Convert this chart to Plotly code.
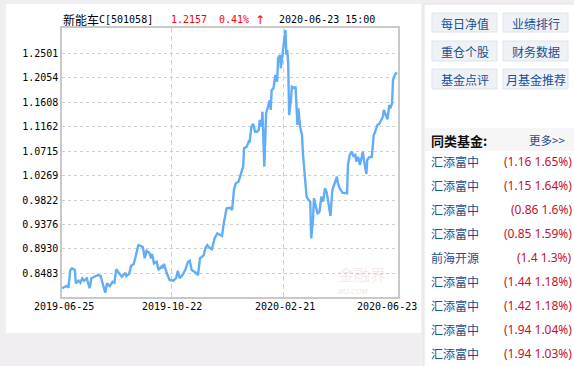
import plotly.graph_objects as go

# ---------------- data ----------------
dates = [
    "2019-06-25","2019-06-30","2019-07-02","2019-07-04","2019-07-06","2019-07-09","2019-07-10",
    "2019-07-13","2019-07-15","2019-07-17","2019-07-19","2019-07-22","2019-07-24","2019-07-25",
    "2019-07-27","2019-07-31","2019-08-03","2019-08-06","2019-08-08","2019-08-11","2019-08-13",
    "2019-08-16","2019-08-19","2019-08-21","2019-08-23","2019-08-26","2019-08-29","2019-08-31",
    "2019-09-02","2019-09-03","2019-09-06","2019-09-08","2019-09-11","2019-09-13","2019-09-16",
    "2019-09-19","2019-09-21","2019-09-23","2019-09-25","2019-09-28","2019-09-30","2019-10-01",
    "2019-10-03","2019-10-06","2019-10-08","2019-10-11","2019-10-12","2019-10-14","2019-10-17",
    "2019-10-20","2019-10-24","2019-10-27","2019-10-29","2019-10-31","2019-11-03","2019-11-06",
    "2019-11-09","2019-11-11","2019-11-13","2019-11-16","2019-11-18","2019-11-20","2019-11-22",
    "2019-11-26","2019-11-28","2019-11-30","2019-12-02","2019-12-05","2019-12-08","2019-12-11",
    "2019-12-14","2019-12-16","2019-12-18","2019-12-21","2019-12-25","2019-12-27","2019-12-29",
    "2019-12-31","2020-01-03","2020-01-05","2020-01-08","2020-01-09","2020-01-12","2020-01-14",
    "2020-01-15","2020-01-17","2020-01-19","2020-01-21","2020-01-23","2020-01-25","2020-01-26",
    "2020-01-28","2020-01-29","2020-01-31","2020-02-02","2020-02-06","2020-02-07","2020-02-08",
    "2020-02-10","2020-02-12","2020-02-14","2020-02-15","2020-02-17","2020-02-18","2020-02-20",
    "2020-02-21","2020-02-23","2020-02-24","2020-02-25","2020-02-26","2020-02-27","2020-02-29",
    "2020-03-01","2020-03-04","2020-03-05","2020-03-07","2020-03-08","2020-03-10","2020-03-12",
    "2020-03-13","2020-03-15","2020-03-17","2020-03-19","2020-03-21","2020-03-22","2020-03-24",
    "2020-03-25","2020-03-27","2020-03-29","2020-03-31","2020-04-02","2020-04-04","2020-04-06",
    "2020-04-08","2020-04-10","2020-04-12","2020-04-14","2020-04-16","2020-04-19","2020-04-20",
    "2020-04-22","2020-04-25","2020-04-28","2020-04-30","2020-05-01","2020-05-03","2020-05-05",
    "2020-05-07","2020-05-09","2020-05-10","2020-05-12","2020-05-14","2020-05-16","2020-05-17",
    "2020-05-19","2020-05-21","2020-05-22","2020-05-24","2020-05-27","2020-05-29","2020-05-30",
    "2020-06-02","2020-06-04","2020-06-06","2020-06-08","2020-06-09","2020-06-11","2020-06-13",
    "2020-06-15","2020-06-16","2020-06-18","2020-06-19","2020-06-21","2020-06-23",
]
nav = [
    0.8209,0.8251,0.8220,0.8543,0.8574,0.8543,0.8300,
    0.8348,0.8311,0.8392,0.8348,0.8392,0.8269,0.8209,
    0.8392,0.8434,0.8452,0.8434,0.8329,0.8128,0.8300,
    0.8251,0.8329,0.8311,0.8556,0.8483,0.8421,0.8452,
    0.8494,0.8434,0.8470,0.8616,0.8653,0.8786,0.9000,
    0.8982,0.8958,0.8757,0.8896,0.8860,0.8757,0.8836,
    0.8666,0.8695,0.8543,0.8604,0.8574,0.8653,0.8483,
    0.8361,0.8348,0.8392,0.8531,0.8392,0.8452,0.8543,
    0.8695,0.8713,0.8543,0.8512,0.8483,0.8452,0.8757,
    0.8808,0.8945,0.9000,0.8955,0.8922,0.9123,0.9214,
    0.9183,0.9165,0.9397,0.9671,0.9682,0.9640,1.0005,
    1.0128,1.0157,1.0280,1.0431,1.0768,1.0797,1.0888,
    1.0870,1.1163,1.1212,1.1071,1.1071,1.1102,1.1285,
    1.1163,1.1437,1.0431,1.1407,1.1650,1.1468,1.1833,
    1.1864,1.2107,1.1985,1.2413,1.2473,1.2230,1.2504,
    1.2551,1.2930,1.2473,1.2564,1.2321,1.1376,1.1650,
    1.1894,1.1864,1.1894,1.1194,1.1499,1.1163,1.1011,
    1.0676,1.0188,0.9883,0.9823,0.9792,0.9123,0.9457,
    0.9854,0.9700,0.9567,0.9609,0.9883,0.9792,1.0037,
    0.9956,0.9762,0.9530,1.0005,1.0097,1.0249,1.0128,
    1.0037,0.9956,0.9945,0.9945,1.0462,1.0645,1.0706,
    1.0627,1.0645,1.0523,1.0614,1.0462,1.0614,1.0706,
    1.0494,1.0298,1.0554,1.0603,1.0614,1.1011,1.1042,
    1.1194,1.1212,1.1285,1.1345,1.1468,1.1376,1.1298,
    1.1559,1.1499,1.1590,1.2016,1.2107,1.2157,
]
y_ticks = [0.8483, 0.8930, 0.9376, 0.9822, 1.0269, 1.0715, 1.1162, 1.1608, 1.2054, 1.2501]
y_tick_labels = ["0.8483", "0.8930", "0.9376", "0.9822", "1.0269",
                 "1.0715", "1.1162", "1.1608", "1.2054", "1.2501"]
x_tick_dates = ["2019-06-25", "2019-10-22", "2020-02-21", "2020-06-23"]
x_tick_labels = ["2019-06-25", "2019-10-22", "2020-02-21", "2020-06-23"]

fund_name = "新能车"
fund_code = "C[501058]"
last_nav = "1.2157"
last_chg = "0.41%"
last_arrow = "↑"
last_time = "2020-06-23 15:00"

buttons = ["每日净值", "业绩排行", "重仓个股", "财务数据", "基金点评", "月基金推荐"]
peer_title = "同类基金:"
peer_more = "更多>>"
peer_names = ["汇添富中", "汇添富中", "汇添富中", "汇添富中", "前海开源",
              "汇添富中", "汇添富中", "汇添富中", "汇添富中"]
peer_vals = ["(1.16 1.65%)", "(1.15 1.64%)", "(0.86 1.6%)", "(0.85 1.59%)", "(1.4 1.3%)",
             "(1.44 1.18%)", "(1.42 1.18%)", "(1.94 1.04%)", "(1.94 1.03%)"]

# ---------------- layout helpers ----------------
W, H = 574, 366
L, R, T, B = 62, 398, 28, 297  # plot area in pixels


def px(x):
    return (x - L) / (R - L)


def py(y):
    return (B - y) / (B - T)


MONO = "DejaVu Sans Mono, Liberation Mono, monospace"
CJK = "Noto Sans CJK SC, Noto Sans, sans-serif"
BLUE = "#1b4f93"
GRID = "#cfcfcf"

fig = go.Figure()
fig.add_trace(go.Scatter(
    x=dates, y=nav, mode="lines",
    line=dict(color="#62adf7", width=2.4),
    hoverinfo="skip", showlegend=False,
))

shapes = []
# left white panel
shapes.append(dict(type="rect", xref="paper", yref="paper",
                   x0=px(6), x1=px(421), y0=py(333), y1=py(4),
                   fillcolor="white", line=dict(width=0), layer="below"))
# right white panel
shapes.append(dict(type="rect", xref="paper", yref="paper",
                   x0=px(424), x1=px(580), y0=py(370), y1=py(4),
                   fillcolor="white", line=dict(color="#e2e2e2", width=1), layer="below"))
# peer header band
shapes.append(dict(type="rect", xref="paper", yref="paper",
                   x0=px(425), x1=px(580), y0=py(151), y1=py(128),
                   fillcolor="#f6f6f6", line=dict(width=0), layer="below"))

annotations = []
# title
annotations.append(dict(text=fund_name, xref="paper", yref="paper", x=px(61), y=py(20),
                        xanchor="left", yanchor="middle", showarrow=False,
                        font=dict(family=CJK, size=12, color="#000")))
annotations.append(dict(text=fund_code, xref="paper", yref="paper", x=px(97), y=py(20),
                        xanchor="left", yanchor="middle", showarrow=False,
                        font=dict(family=MONO, size=10, color="#000")))
annotations.append(dict(text=last_nav, xref="paper", yref="paper", x=px(169), y=py(20),
                        xanchor="left", yanchor="middle", showarrow=False,
                        font=dict(family=MONO, size=10, color="#ff0000")))
annotations.append(dict(text=last_chg, xref="paper", yref="paper", x=px(217), y=py(20),
                        xanchor="left", yanchor="middle", showarrow=False,
                        font=dict(family=MONO, size=10, color="#ff0000")))
annotations.append(dict(text=last_arrow, xref="paper", yref="paper", x=px(253), y=py(20),
                        xanchor="left", yanchor="middle", showarrow=False,
                        font=dict(family="DejaVu Sans", size=12, color="#ff0000")))
annotations.append(dict(text=last_time, xref="paper", yref="paper", x=px(277), y=py(20),
                        xanchor="left", yanchor="middle", showarrow=False,
                        font=dict(family=MONO, size=10, color="#000")))

# x tick labels
x_shifts = [2, 1, 1, -9.5]
for d, lab, s in zip(x_tick_dates, x_tick_labels, x_shifts):
    annotations.append(dict(text=lab, xref="x", yref="paper", x=d, y=py(306),
                            xanchor="center", yanchor="middle", xshift=s, showarrow=False,
                            font=dict(family=MONO, size=10, color="#000")))

# watermark
annotations.append(dict(text="金融界", xref="paper", yref="paper", x=px(362), y=py(274),
                        xanchor="center", yanchor="middle", showarrow=False,
                        font=dict(family=CJK, size=16, color="rgba(230,190,190,0.35)")))
annotations.append(dict(text="<i>JRJ.COM</i>", xref="paper", yref="paper", x=px(352), y=py(291),
                        xanchor="center", yanchor="middle", showarrow=False,
                        font=dict(family="Liberation Sans", size=7, color="rgba(230,180,180,0.45)")))

# buttons
btn_cols = [(432, 497), (503, 568)]
btn_rows = [(13, 32), (41, 61), (69, 89)]
for i, label in enumerate(buttons):
    c0, c1 = btn_cols[i % 2]
    r0, r1 = btn_rows[i // 2]
    shapes.append(dict(type="rect", xref="paper", yref="paper",
                       x0=px(c0), x1=px(c1), y0=py(r1), y1=py(r0),
                       fillcolor="#eef2f6", line=dict(color="#dfe4ea", width=1), layer="below"))
    annotations.append(dict(text=label, xref="paper", yref="paper",
                            x=px((c0 + c1) / 2), y=py((r0 + r1) / 2 + 0.5),
                            xanchor="center", yanchor="middle", showarrow=False,
                            font=dict(family=CJK, size=12, color=BLUE)))

# peer list
annotations.append(dict(text="<b>" + peer_title + "</b>", xref="paper", yref="paper",
                        x=px(429), y=py(140), xanchor="left", yanchor="middle", showarrow=False,
                        font=dict(family=CJK, size=13, color="#111")))
annotations.append(dict(text=peer_more, xref="paper", yref="paper",
                        x=px(567), y=py(140), xanchor="right", yanchor="middle", showarrow=False,
                        font=dict(family=CJK, size=11.5, color=BLUE)))
for i, (nm, vl) in enumerate(zip(peer_names, peer_vals)):
    yy = 161 + 24 * i
    annotations.append(dict(text=nm, xref="paper", yref="paper", x=px(429), y=py(yy),
                            xanchor="left", yanchor="middle", showarrow=False,
                            font=dict(family=CJK, size=12, color=BLUE)))
    annotations.append(dict(text=vl, xref="paper", yref="paper", x=px(574), y=py(yy),
                            xanchor="right", yanchor="middle", showarrow=False,
                            font=dict(family="Noto Sans, sans-serif", size=12, color="#c8102e")))

fig.update_layout(
    width=W, height=H,
    margin=dict(l=L, r=W - R, t=T, b=H - B, pad=0),
    paper_bgcolor="#f0eef0",
    plot_bgcolor="white",
    shapes=shapes,
    annotations=annotations,
    showlegend=False,
    xaxis=dict(
        type="date",
        range=["2019-06-25", "2020-06-24 10:00"],
        tickvals=x_tick_dates[1:3],
        showticklabels=False,
        showgrid=True, gridcolor=GRID, griddash="5px,3px", gridwidth=1,
        showline=True, mirror=True, linecolor="#c8c8c8", linewidth=1.5,
        zeroline=False, ticks="", fixedrange=True,
    ),
    yaxis=dict(
        range=[0.8050, 1.2966],
        tickvals=y_ticks, ticktext=y_tick_labels,
        tickfont=dict(family=MONO, size=10, color="#000"),
        showgrid=True, gridcolor=GRID, griddash="3px,3px", gridwidth=1,
        showline=True, mirror=True, linecolor="#c8c8c8", linewidth=1.5,
        zeroline=False, ticks="", fixedrange=True,
    ),
)

fig.write_html("out.html")
